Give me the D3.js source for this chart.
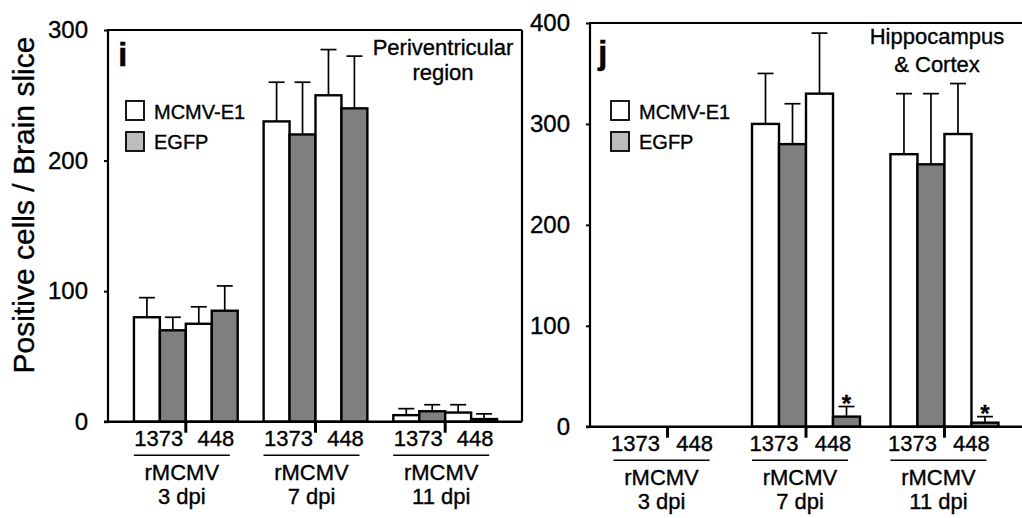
<!DOCTYPE html>
<html>
<head>
<meta charset="utf-8">
<script src="https://cdn.jsdelivr.net/npm/d3@7"></script>
<style>
  html, body { margin: 0; padding: 0; background: #fff; }
  svg { display: block; font-family: "Liberation Sans", Arial, Helvetica, sans-serif; }
  svg text { stroke: #000; stroke-width: 0.35px; fill: #000; }
</style>
</head>
<body>
<svg id="chart" width="1022" height="518"></svg>
<script>
// --- data ---
const groups = ["3 dpi", "7 dpi", "11 dpi"];
const strains = ["1373", "448"];
const seriesNames = ["MCMV-E1", "EGFP"];
// bar order inside a group: 1373 MCMV-E1, 1373 EGFP, 448 MCMV-E1, 448 EGFP
const periMean = [[80, 70, 75, 85], [230, 220, 250, 240], [5, 8, 7, 2]];
const periSd   = [[15, 10, 13, 19], [30, 40, 35, 40], [5, 5, 6, 4]];
const hippoMean = [[0, 0, 0, 0], [300, 280, 330, 10], [270, 260, 290, 4]];
const hippoSd   = [[0, 0, 0, 0], [50, 40, 60, 10], [60, 70, 50, 6]];
const hippoSig  = [[0, 0, 0, 0], [0, 0, 0, 1], [0, 0, 0, 1]];
const periTicks = [0, 100, 200, 300];
const hippoTicks = [0, 100, 200, 300, 400];

const svg = d3.select("#chart");
const fills = ["#ffffff", "#7f7f7f"];
const legendFills = ["#ffffff", "#bdbdbd"];

function drawPanel(cfg) {
    const g = svg.append("g");

    const y = d3.scaleLinear().domain(cfg.domain).range([cfg.yBottom, cfg.yTop]);
    const x = d3.scaleBand().domain(groups).range([cfg.x0, cfg.x1])
        .paddingInner(cfg.padIn).paddingOuter(cfg.padOut);
    const xi = d3.scaleBand().domain(d3.range(4)).range([0, x.bandwidth()]);

    // bars
    groups.forEach((grp, gi) => {
        const gg = g.append("g").attr("transform", `translate(${x(grp)},0)`);
        const rows = cfg.mean[gi].map((v, k) => ({ k, v, sd: cfg.sd[gi][k], sig: cfg.sig ? cfg.sig[gi][k] : 0 }));
        const live = rows.filter(d => d.v > 0);

        // error bars (upper only)
        gg.selectAll("line.err").data(live).enter().append("line")
            .attr("x1", d => xi(d.k) + xi.bandwidth() / 2)
            .attr("x2", d => xi(d.k) + xi.bandwidth() / 2)
            .attr("y1", d => y(d.v))
            .attr("y2", d => y(d.v + d.sd))
            .attr("stroke", "#000").attr("stroke-width", 1.7);
        gg.selectAll("line.cap").data(live).enter().append("line")
            .attr("x1", d => xi(d.k) + xi.bandwidth() / 2 - 8)
            .attr("x2", d => xi(d.k) + xi.bandwidth() / 2 + 8)
            .attr("y1", d => y(d.v + d.sd))
            .attr("y2", d => y(d.v + d.sd))
            .attr("stroke", "#000").attr("stroke-width", 1.7);

        gg.selectAll("rect").data(live).enter().append("rect")
            .attr("x", d => xi(d.k))
            .attr("y", d => y(d.v))
            .attr("width", xi.bandwidth())
            .attr("height", d => y(0) - y(d.v))
            .attr("fill", d => fills[d.k % 2])
            .attr("stroke", "#000").attr("stroke-width", 2.4);

        gg.selectAll("text.star").data(live.filter(d => d.sig)).enter().append("text")
            .attr("x", d => xi(d.k) + xi.bandwidth() / 2)
            .attr("y", d => y(d.v + d.sd) + 5)
            .attr("text-anchor", "middle")
            .attr("font-size", 24).attr("font-weight", "bold")
            .text("*");

        // separator tick between strains
        const sep = x(grp) + x.bandwidth() / 2;
        g.append("line")
            .attr("x1", sep).attr("x2", sep)
            .attr("y1", cfg.yBottom).attr("y2", cfg.yBottom + 11)
            .attr("stroke", "#000").attr("stroke-width", 3);

        // category labels
        g.append("text").attr("x", sep + cfg.dx1373).attr("y", cfg.yBottom + 24)
            .attr("text-anchor", "middle").attr("font-size", 22).text(strains[0]);
        g.append("text").attr("x", sep + cfg.dx448).attr("y", cfg.yBottom + 24)
            .attr("text-anchor", "middle").attr("font-size", 22).text(strains[1]);
        g.append("line")
            .attr("x1", sep + cfg.dxGroup - 48).attr("x2", sep + cfg.dxGroup + 48)
            .attr("y1", cfg.yBottom + 33.5).attr("y2", cfg.yBottom + 33.5)
            .attr("stroke", "#000").attr("stroke-width", 1.6);
        g.append("text").attr("x", sep + cfg.dxGroup).attr("y", cfg.yBottom + 58)
            .attr("text-anchor", "middle").attr("font-size", 22).text("rMCMV");
        g.append("text").attr("x", sep + cfg.dxGroup).attr("y", cfg.yBottom + 82)
            .attr("text-anchor", "middle").attr("font-size", 22).text(grp);
    });

    // y axis
    const ax = g.append("g").attr("transform", `translate(${cfg.x0},0)`)
        .call(d3.axisLeft(y).tickValues(cfg.ticks).tickSize(4).tickPadding(16));
    ax.select(".domain").remove();
    ax.selectAll(".tick line").attr("stroke", "#000").attr("stroke-width", 2);
    ax.selectAll(".tick text").attr("font-size", 24).attr("fill", "#000")
        .attr("font-family", "Liberation Sans, Arial, sans-serif");

    // frame lines
    g.append("line").attr("x1", cfg.x0).attr("x2", cfg.x0)
        .attr("y1", cfg.yTop).attr("y2", cfg.yBottom)
        .attr("stroke", "#000").attr("stroke-width", 2.2);
    g.append("line").attr("x1", cfg.x0 - 4).attr("x2", cfg.frameRight)
        .attr("y1", cfg.yBottom).attr("y2", cfg.yBottom)
        .attr("stroke", "#000").attr("stroke-width", 2.4);
    g.append("line").attr("x1", cfg.x0 - 1).attr("x2", cfg.frameRight)
        .attr("y1", cfg.yTop).attr("y2", cfg.yTop)
        .attr("stroke", "#000").attr("stroke-width", 2.2);
    if (cfg.rightBorder) {
        g.append("line").attr("x1", cfg.frameRight).attr("x2", cfg.frameRight)
            .attr("y1", cfg.yTop).attr("y2", cfg.yBottom)
            .attr("stroke", "#000").attr("stroke-width", 2.2);
    }

    // legend
    seriesNames.forEach((s, i) => {
        g.append("rect").attr("x", cfg.legX).attr("y", 101 + i * 31)
            .attr("width", 18).attr("height", 19)
            .attr("fill", legendFills[i]).attr("stroke", "#000").attr("stroke-width", 1.8);
        g.append("text").attr("x", cfg.legX + 28).attr("y", 119 + i * 30)
            .attr("font-size", 20).text(s);
    });

    // panel letter
    g.append("text").attr("x", cfg.letterX).attr("y", cfg.letterY)
        .attr("font-size", 34).attr("font-weight", "bold").text(cfg.letter);

    // region label
    cfg.region.forEach((t, i) => {
        g.append("text").attr("x", cfg.regionX).attr("y", cfg.regionY[i])
            .attr("text-anchor", "middle").attr("font-size", 22).text(t);
    });
}

drawPanel({
    mean: periMean, sd: periSd, domain: [0, 300], ticks: periTicks,
    x0: 108, x1: 523, yTop: 30, yBottom: 421.7, frameRight: 522, rightBorder: true,
    padIn: 0.2, padOut: 0.2,
    dx1373: -27, dx448: 30, dxGroup: -4,
    legX: 126, letter: "i", letterX: 118, letterY: 66,
    region: ["Periventricular", "region"], regionX: 443, regionY: [55, 80]
});

drawPanel({
    mean: hippoMean, sd: hippoSd, sig: hippoSig, domain: [0, 400], ticks: hippoTicks,
    x0: 590, x1: 1022, yTop: 23, yBottom: 426.7, frameRight: 1024, rightBorder: false,
    padIn: 0.22, padOut: 0.17,
    dx1373: -32, dx448: 27, dxGroup: -6,
    legX: 611, letter: "j", letterX: 598, letterY: 64,
    region: ["Hippocampus", "& Cortex"], regionX: 937, regionY: [43.5, 72]
});

// shared y title
svg.append("text")
    .attr("transform", "translate(34,205) rotate(-90)")
    .attr("text-anchor", "middle")
    .attr("font-size", 30)
    .text("Positive cells / Brain slice");
</script>
</body>
</html>
